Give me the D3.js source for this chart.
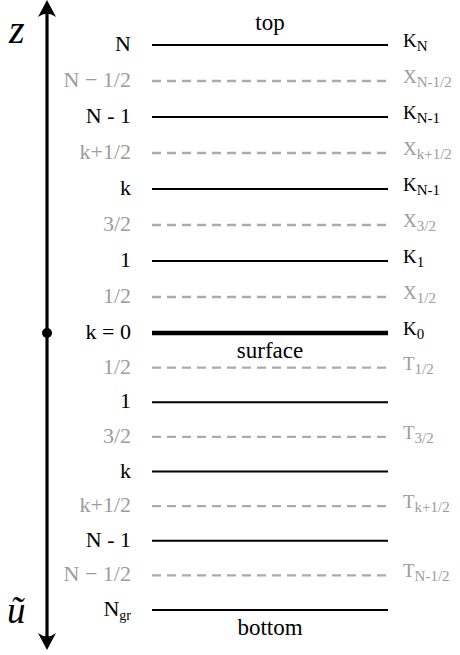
<!DOCTYPE html>
<html>
<head>
<meta charset="utf-8">
<script src="https://cdn.jsdelivr.net/npm/d3@7"></script>
<style>
  html, body { margin: 0; padding: 0; background: #fff; }
  svg { display: block; }
</style>
</head>
<body>
<script>
// ---- data ----
const levelIndex = [0,1,2,3,4,5,6,7,8,9,10,11,12,13,14,15,16];
const levelStyles = ["solid","dashed","solid","dashed","solid","dashed","solid","dashed","thick",
                     "dashed","solid","dashed","solid","dashed","solid","dashed","solid"];
const leftMain = ["N","N \u2212 1/2","N - 1","k+1/2","k","3/2","1","1/2","k = 0",
                  "1/2","1","3/2","k","k+1/2","N - 1","N \u2212 1/2","N"];
const leftSub  = ["","","","","","","","","","","","","","","","","gr"];
const rightMain = ["K","X","K","X","K","X","K","X","K","T","","T","","T","","T",""];
const rightSub  = ["N","N-1/2","N-1","k+1/2","N-1","3/2","1","1/2","0","1/2","","3/2","","k+1/2","","N-1/2",""];
const annotText  = ["top","surface","bottom"];
const annotLevel = [0, 8, 16];
const annotSide  = ["above","below","below"];
const axisTop = "z";
const axisBottom = "\u0169";

// ---- layout ----
const W = 460, H = 655;
const FONT = '"Liberation Serif", "Times New Roman", serif';
const svg = d3.select("body").append("svg").attr("width", W).attr("height", H)
  .style("font-family", FONT);

const y = d3.scaleLinear().domain([0, 8, 16]).range([45, 333, 610]);
const x = d3.scaleLinear().domain([0, 1]).range([152, 388]);
const axisX = 47;
const gray = "#9c9c9c";
const dashGray = "#ababab";

// axis shaft
svg.append("line")
  .attr("x1", axisX).attr("x2", axisX)
  .attr("y1", 10).attr("y2", 640)
  .attr("stroke", "#000").attr("stroke-width", 3.2);
// arrowheads
svg.append("path")
  .attr("d", `M${axisX},0 L${axisX+9},17 Q${axisX},10 ${axisX-9},17 Z`)
  .attr("fill", "#000");
svg.append("path")
  .attr("d", `M${axisX},650 L${axisX+9},633 Q${axisX},640 ${axisX-9},633 Z`)
  .attr("fill", "#000");
// surface dot
svg.append("circle").attr("cx", axisX).attr("cy", y(8)).attr("r", 5).attr("fill", "#000");

// axis labels
svg.append("text").attr("x", 9).attr("y", 43)
  .style("font-style", "italic").style("font-size", "40px")
  .text(axisTop);
svg.append("text").attr("x", 7).attr("y", 623)
  .style("font-style", "italic").style("font-size", "37px")
  .text(axisBottom);

// level lines
svg.append("g").selectAll("line").data(levelIndex).join("line")
  .attr("x1", x(0)).attr("x2", x(1))
  .attr("y1", d => y(d)).attr("y2", d => y(d))
  .attr("stroke", d => levelStyles[d] === "dashed" ? dashGray : "#000")
  .attr("stroke-width", d => levelStyles[d] === "thick" ? 4.5 : (levelStyles[d] === "dashed" ? 2.4 : 2.2))
  .attr("stroke-dasharray", d => levelStyles[d] === "dashed" ? "9,6" : null);

// left labels
const lt = svg.append("g").selectAll("text").data(levelIndex).join("text")
  .attr("x", 131).attr("y", d => y(d) + 6)
  .attr("text-anchor", "end")
  .style("font-size", "22px")
  .attr("fill", d => levelStyles[d] === "dashed" ? gray : "#000");
lt.append("tspan").text(d => leftMain[d]);
lt.filter(d => leftSub[d]).append("tspan")
  .style("font-size", "14px").attr("dy", 4).text(d => leftSub[d]);

// right labels
const rt = svg.append("g").selectAll("text").data(levelIndex.filter(d => rightMain[d])).join("text")
  .attr("x", 403).attr("y", d => y(d) + 2)
  .style("font-size", "19px")
  .attr("fill", d => levelStyles[d] === "dashed" ? gray : "#000");
rt.append("tspan").text(d => rightMain[d]);
rt.append("tspan").style("font-size", "15px").attr("dy", 4).text(d => rightSub[d]);

// annotations
svg.append("g").selectAll("text").data(annotText).join("text")
  .attr("x", (x(0) + x(1)) / 2)
  .attr("y", (d, i) => y(annotLevel[i]) + (annotSide[i] === "above" ? -15 : 25))
  .attr("text-anchor", "middle")
  .style("font-size", "23px")
  .text(d => d);
</script>
</body>
</html>
